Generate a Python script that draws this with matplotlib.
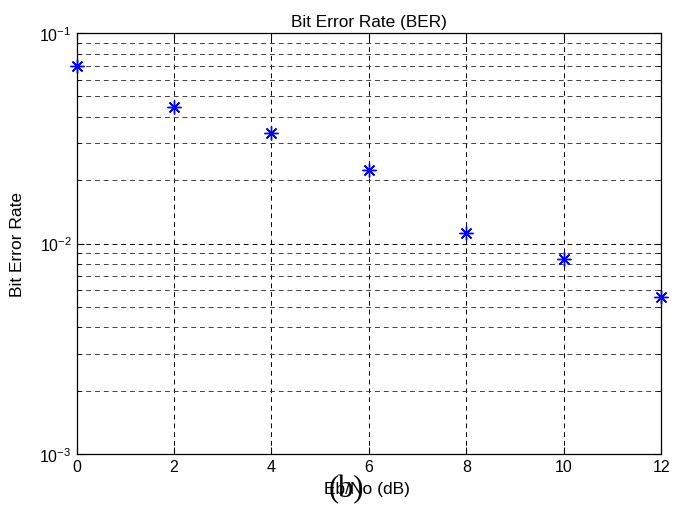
import matplotlib
matplotlib.use('Agg')
import matplotlib.pyplot as plt
from matplotlib.ticker import LogLocator, NullFormatter, LogFormatterSciNotation

plt.rcParams['font.family'] = ['Liberation Sans', 'DejaVu Sans']
plt.rcParams['mathtext.fontset'] = 'custom'
plt.rcParams['mathtext.rm'] = 'Liberation Sans'
plt.rcParams['mathtext.it'] = 'Liberation Sans'
plt.rcParams['mathtext.bf'] = 'Liberation Sans'

ebno = [0, 2, 4, 6, 8, 10, 12]
ber = [0.0697, 0.0444, 0.0334, 0.0223, 0.0112, 0.0084, 0.0056]
xticks = [0, 2, 4, 6, 8, 10, 12]

fig = plt.figure(figsize=(6.87, 5.10), dpi=100)
ax = fig.add_axes([0.1115, 0.108, 0.851, 0.825])

# MATLAB style asterisk: + and x on top of each other
ax.semilogy(ebno, ber, linestyle='none', marker=(8, 2, 0), color='blue',
            markersize=10, markeredgewidth=1.0, clip_on=False, zorder=5)

ax.set_xlim(0, 12)
ax.set_ylim(1e-3, 1e-1)
ax.set_xticks(xticks)
ax.yaxis.set_major_locator(LogLocator(base=10, numticks=10))
ax.yaxis.set_minor_locator(LogLocator(base=10, subs=range(2, 10), numticks=20))
ax.yaxis.set_minor_formatter(NullFormatter())
ax.yaxis.set_major_formatter(LogFormatterSciNotation())

ax.grid(True, which='major', axis='both', color='black', linestyle=(0, (5, 4)), linewidth=0.7)
ax.grid(True, which='minor', axis='y', color='0.25', linestyle=(0, (5, 4)), linewidth=0.7)

ax.tick_params(which='both', direction='in', top=True, right=True, labelsize=11.5)
ax.tick_params(which='major', length=5)
ax.tick_params(which='minor', length=3)
for s in ax.spines.values():
    s.set_linewidth(0.9)

ax.set_title('Bit Error Rate (BER)', fontsize=12.4, pad=5)
ax.set_ylabel('Bit Error Rate', fontsize=12.5)
ax.yaxis.set_label_coords(-0.088, 0.5)
ax.set_xlabel('Eb/No (dB)', fontsize=12.5)
ax.xaxis.set_label_coords(0.496, -0.064)
fig.text(0.504, 0.026, '(b)', fontsize=22, family='Liberation Serif', ha='center')

fig.savefig('out.png', dpi=100)
